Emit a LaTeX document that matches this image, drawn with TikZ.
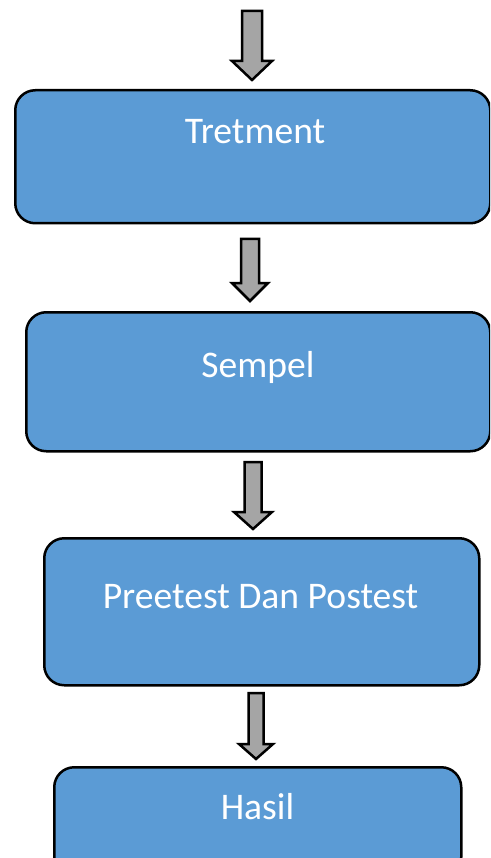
\documentclass[tikz,border=0pt]{standalone}
\usepackage{fontspec}
\setmainfont{Carlito}
\definecolor{boxblue}{HTML}{5B9BD5}
\definecolor{arrowgray}{HTML}{A5A5A5}
\tikzset{
  stagebox/.style={draw=black, line width=2.5pt, fill=boxblue, rounded corners=20pt,
    inner sep=0pt, anchor=north west},
  stagetext/.style={text=white, font=\fontsize{37.6}{41}\selectfont, inner sep=0pt},
  flowarrow/.style={draw=black, line width=2.5pt, fill=arrowgray, line join=miter},
}
% block arrow pointing down: centre x, top y, head start y, tip y, half shaft, half head
\newcommand\blockarrow[6]{%
  \draw[flowarrow] (#1-#5,#2) -- (#1+#5,#2) -- (#1+#5,#3) -- (#1+#6,#3)
    -- (#1,#4) -- (#1-#6,#3) -- (#1-#5,#3) -- cycle;}
\begin{document}
\begin{tikzpicture}[x=1pt, y=-1pt]
  \useasboundingbox (0,0) rectangle (490,858);
  \clip (0,0) rectangle (490,858);

  \blockarrow{252}{11}{61}{80}{10}{20}
  \node[stagebox, minimum width=475pt, minimum height=133pt] (b1) at (14,89) {};
  \node[stagetext] (t1) at (255,132) {Tretment};

  \blockarrow{250}{239}{283}{301}{9}{18}
  \node[stagebox, minimum width=464pt, minimum height=139pt] (b2) at (25,311) {};
  \node[stagetext] (t2) at (258,367) {Sempel};

  \blockarrow{253}{462}{512}{529}{8.5}{19}
  \node[stagebox, minimum width=435pt, minimum height=147pt] (b3) at (43,537) {};
  \node[stagetext] (t3) at (260.5,597) {Preetest Dan Postest};

  \blockarrow{256}{693}{744}{759}{7.5}{17}
  \node[stagebox, minimum width=407pt, minimum height=110pt] (b4) at (53,766) {};
  \node[stagetext] (t4) at (257.5,807) {Hasil};
\end{tikzpicture}
\end{document}
